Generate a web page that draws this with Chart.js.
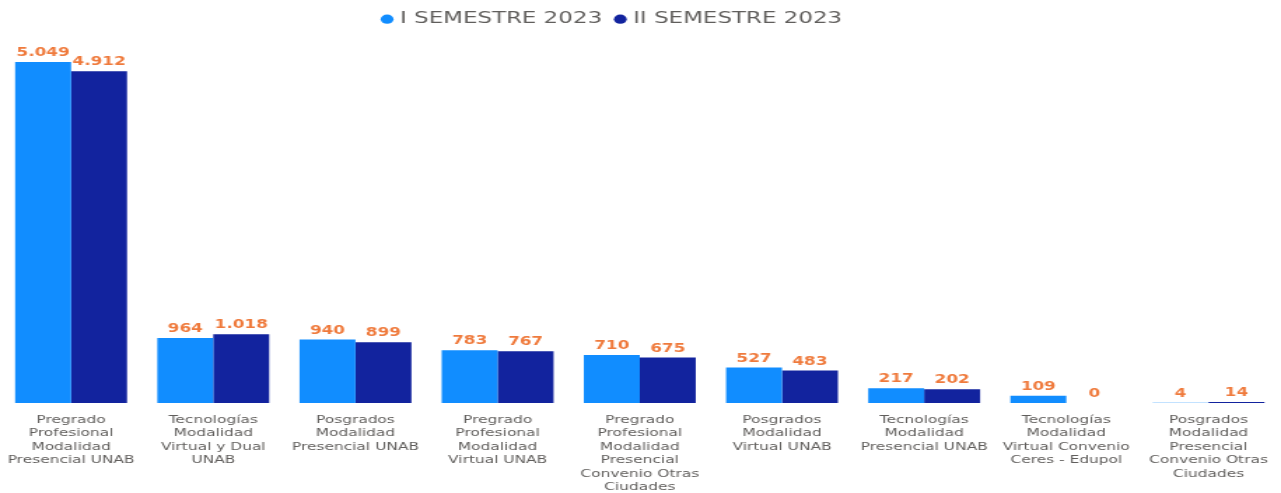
<!DOCTYPE html>
<html>
<head>
<meta charset="utf-8">
<script src="https://cdn.jsdelivr.net/npm/chart.js@4/dist/chart.umd.min.js"></script>
<style>
  html, body { margin: 0; padding: 0; background: #ffffff; overflow: hidden; }
  #wrap { position: absolute; left: 0; top: 0; width: 915px; height: 493px; transform: scaleX(1.4); transform-origin: 0 0; }
</style>
</head>
<body>
<div id="wrap"><canvas id="c"></canvas></div>
<script>
const categories = [
  ["Pregrado", "Profesional", "Modalidad", "Presencial UNAB"],
  ["Tecnologías", "Modalidad", "Virtual y Dual", "UNAB"],
  ["Posgrados", "Modalidad", "Presencial UNAB"],
  ["Pregrado", "Profesional", "Modalidad", "Virtual UNAB"],
  ["Pregrado", "Profesional", "Modalidad", "Presencial", "Convenio Otras", "Ciudades"],
  ["Posgrados", "Modalidad", "Virtual UNAB"],
  ["Tecnologías", "Modalidad", "Presencial UNAB"],
  ["Tecnologías", "Modalidad", "Virtual Convenio", "Ceres - Edupol"],
  ["Posgrados", "Modalidad", "Presencial", "Convenio Otras", "Ciudades"]
];
const seriesNames = ["I SEMESTRE 2023", "II SEMESTRE 2023"];
const semestre1 = [5049, 964, 940, 783, 710, 527, 217, 109, 4];
const semestre2 = [4912, 1018, 899, 767, 675, 483, 202, 0, 14];

function fmt(v) {
  return String(v).replace(/\B(?=(\d{3})+(?!\d))/g, ".");
}

const labelPlugin = {
  id: "barLabels",
  afterLayout(chart) {
    if (chart.legend) {
      chart.legend.left -= 18.5;
      chart.legend.right -= 18.5;
      chart.legend.top -= 1;
      chart.legend.bottom -= 1;
    }
  },
  afterDatasetsDraw(chart) {
    const ctx = chart.ctx;
    ctx.save();
    ctx.font = "bold 12px 'DejaVu Sans'";
    ctx.fillStyle = "#EF7A3C";
    ctx.textAlign = "center";
    ctx.textBaseline = "bottom";
    chart.data.datasets.forEach((ds, i) => {
      const meta = chart.getDatasetMeta(i);
      meta.data.forEach((el, j) => {
        ctx.fillText(fmt(ds.data[j]), el.x, el.y - 3);
      });
    });
    ctx.restore();
  }
};

new Chart(document.getElementById("c"), {
  type: "bar",
  data: {
    labels: categories,
    datasets: [
      { label: seriesNames[0], data: semestre1, backgroundColor: "#118DFF", barPercentage: 1, categoryPercentage: 0.787 },
      { label: seriesNames[1], data: semestre2, backgroundColor: "#12239E", barPercentage: 1, categoryPercentage: 0.787 }
    ]
  },
  options: {
    responsive: true,
    maintainAspectRatio: false,
    animation: false,
    layout: { padding: { left: 0, right: 1, top: 0, bottom: 0 } },
    plugins: {
      tooltip: { enabled: false },
      legend: {
        display: true,
        position: "top",
        labels: {
          usePointStyle: true,
          pointStyle: "circle",
          boxWidth: 2,
          boxHeight: 6.5,
          padding: 12,
          color: "#605E5C",
          font: { family: "'DejaVu Sans'", size: 16.4 }
        }
      }
    },
    scales: {
      x: {
        grid: { display: false, drawTicks: false },
        border: { display: false },
        ticks: {
          autoSkip: false,
          maxRotation: 0,
          minRotation: 0,
          padding: 10,
          color: "#605E5C",
          font: { family: "'DejaVu Sans'", size: 11, lineHeight: 1.23 }
        },
        afterFit(scale) {
          scale.height = 90;
          scale.paddingLeft = 0;
          scale.paddingRight = 0;
        }
      },
      y: {
        display: false,
        min: 0,
        max: 5400
      }
    }
  },
  plugins: [labelPlugin]
});
</script>
</body>
</html>
